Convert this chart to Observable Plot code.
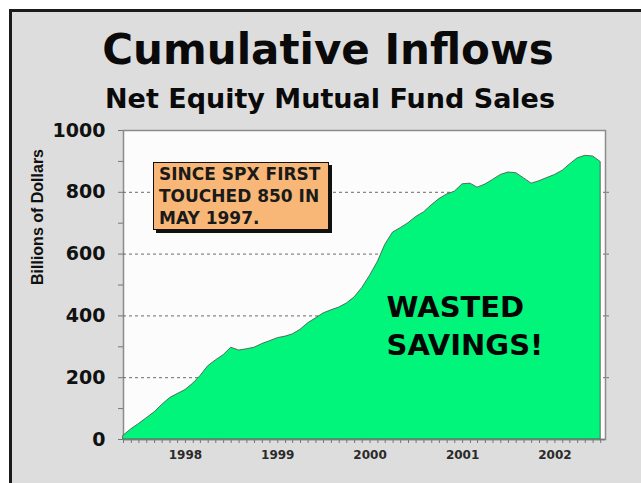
<!DOCTYPE html>
<html>
<head>
<meta charset="utf-8">
<script src="https://cdn.jsdelivr.net/npm/d3@7"></script>
<script src="https://cdn.jsdelivr.net/npm/@observablehq/plot@0.6"></script>
<style>
  html, body { margin: 0; padding: 0; background: #fff; }
  #wrap { position: relative; width: 641px; height: 483px; overflow: hidden; background: #fff; font-family: "DejaVu Sans", sans-serif; }
  #panel { position: absolute; left: 9px; top: 9px; width: 700px; height: 600px; background: #dddddd; border-left: 3px solid #1a1a1a; border-top: 3px solid #1a1a1a; }
  #title { position: absolute; left: 0; width: 656px; top: 29px; text-align: center; font: bold 42px/42px "DejaVu Sans", sans-serif; color: #0a0a0a; }
  #subtitle { position: absolute; left: 0; width: 660px; top: 85px; text-align: center; font: bold 27px/27px "DejaVu Sans", sans-serif; color: #0a0a0a; }
  #chart { position: absolute; left: 0; top: 118px; }
  #note { position: absolute; left: 153px; top: 162px; width: 169px; height: 66px; padding: 0 0 0 5px; background: #f8b776; border: 1px solid #111; box-shadow: 3px 3px 0 #111; font: bold 17px/22px "DejaVu Sans", sans-serif; color: #1a1a1a; white-space: nowrap; }
</style>
</head>
<body>
<div id="wrap">
  <div id="panel"></div>
  <div id="title">Cumulative Inflows</div>
  <div id="subtitle">Net Equity Mutual Fund Sales</div>
  <div id="chart"></div>
  <div id="note"></div>
</div>
<script>
// Monthly cumulative net equity mutual fund sales (billions of dollars), May 1997 - Jul 2002
const startYear = 1997;
const startMonth = 4; // May (0-based)
const values = [
  12, 33, 50, 69, 88, 112, 134, 147, 160, 181, 205, 237,
  256, 273, 297, 288, 292, 297, 309, 318, 328, 333, 340, 355,
  376, 392, 408, 418, 427, 440, 460, 490, 530, 575, 630, 670,
  684, 700, 720, 735, 758, 778, 793, 802, 826, 828, 815, 825,
  840, 856, 864, 862, 845, 828, 836, 846, 856, 870, 890, 910,
  918, 916, 898
];
const yTicks = [0, 200, 400, 600, 800, 1000];
const yMinorTicks = [100, 300, 500, 700, 900];
const gridValues = [200, 400, 600, 800];
const yearLabels = ["1998", "1999", "2000", "2001", "2002"];
const yLabel = "Billions of Dollars";
const noteLines = ["SINCE SPX FIRST", "TOUCHED 850 IN", "MAY 1997."];
const bigText = ["WASTED", "SAVINGS!"];

const data = values.map((v, i) => ({date: new Date(Date.UTC(startYear, startMonth + i, 1)), value: v}));
const xStart = new Date(Date.UTC(1997, 4, 1));
const xEnd = new Date(Date.UTC(2002, 6, 20));
const monthTicks = d3.utcMonth.range(xStart, xEnd);
const yearTicks = yearLabels.map(y => new Date(Date.UTC(+y, 0, 1)));

document.getElementById("note").innerHTML = noteLines.join("<br>");

const chart = Plot.plot({
  width: 641,
  height: 365,
  marginLeft: 123,
  marginRight: 36,
  marginTop: 12,
  marginBottom: 44,
  style: {background: "transparent", fontFamily: "DejaVu Sans, sans-serif"},
  x: {type: "utc", domain: [xStart, xEnd]},
  y: {domain: [0, 1000]},
  marks: [
    Plot.frame({fill: "#fcfcfc", stroke: "#8c8c8c", strokeWidth: 1.5}),
    Plot.ruleY(gridValues, {stroke: "#6a6a6a", strokeDasharray: "3,3", strokeWidth: 1}),
    Plot.areaY(data, {x: "date", y: "value", fill: "#00f57a", stroke: "#4a4a4a", strokeWidth: 0.8}),
    Plot.ruleY([0], {stroke: "#7a7a7a", strokeWidth: 1.5}),
    Plot.axisY({ticks: yTicks, tickSize: 5, tickPadding: 13, tickFormat: d => String(d), fontSize: 19, fontWeight: "bold", stroke: "#777", fill: "#111", label: null}),
    Plot.axisY({ticks: yMinorTicks, tickSize: 5, tickFormat: () => "", stroke: "#777", label: null}),
    Plot.axisY({anchor: "right", ticks: gridValues, tickSize: 3, tickFormat: () => "", stroke: "#777", label: null}),
    Plot.axisX({ticks: monthTicks, tickSize: 4, tickFormat: () => "", stroke: "#777", label: null}),
    Plot.axisX({ticks: yearTicks, tickSize: 0, tickPadding: 11, tickFormat: d => String(d.getUTCFullYear()), fontSize: 12, fontWeight: "bold", fill: "#2a2a2a", label: null}),
    Plot.text([yLabel], {frameAnchor: "left", dx: -86, rotate: -90, fontSize: 16, fontWeight: "bold", fontFamily: "Liberation Sans, Arial, sans-serif", fill: "#111"}),
    Plot.text([bigText[0]], {frameAnchor: "top-left", dx: 263, dy: 177, textAnchor: "start", lineAnchor: "middle", fontSize: 29, fontWeight: "bold", fill: "#050505"}),
    Plot.text([bigText[1]], {frameAnchor: "top-left", dx: 263, dy: 215, textAnchor: "start", lineAnchor: "middle", fontSize: 29, fontWeight: "bold", fill: "#050505"})
  ]
});
document.getElementById("chart").appendChild(chart);
</script>
</body>
</html>
